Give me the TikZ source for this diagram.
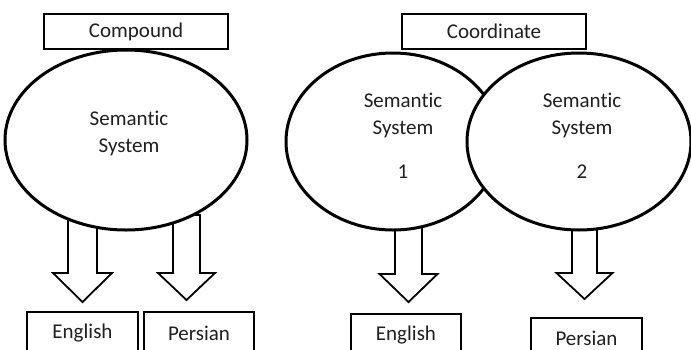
\documentclass[tikz,border=0pt]{standalone}
\usepackage{fontspec}
\setmainfont{Carlito}[Ligatures={NoCommon}]
\usetikzlibrary{shapes.geometric}
\definecolor{ink}{HTML}{202020}
\tikzset{
  lbl/.style={font=\fontsize{21}{27}\selectfont, text=ink, align=center, inner sep=0pt},
  titlebox/.style={draw=black, line width=1.3pt, fill=white},
  sembubble/.style={draw=black, line width=3pt, fill=white, ellipse, inner sep=0pt},
  blockarr/.style={draw=black, line width=1.8pt, fill=white, line join=miter},
}
% \barrow{cx}{top}{neck}{tip}{shaft half}{head half}
\newcommand{\barrow}[6]{%
  \draw[blockarr] (#1-#5,#2) -- (#1+#5,#2) -- (#1+#5,#3) -- (#1+#6,#3) -- (#1,#4)
     -- (#1-#6,#3) -- (#1-#5,#3) -- cycle;}
\begin{document}
\begin{tikzpicture}[x=1pt,y=-1pt]
\useasboundingbox (0,0) rectangle (691,349);
\clip (0,0) rectangle (691,349);
\fill[white] (0,0) rectangle (691,349);

% ---- Compound ----
\barrow{82.5}{215}{273}{302}{14.5}{29.5}
\barrow{186.5}{215}{273}{300}{13.5}{28.5}
\node[sembubble, minimum width=242pt, minimum height=180pt] (cE) at (126,140) {};
\node[titlebox, minimum width=184pt, minimum height=35pt] (cT) at (136,31.5) {};
\node[lbl] (cTt) at (136,31.5) {Compound};
\node[lbl] (cS) at (129,133.5) {Semantic\\System};
\node[titlebox, minimum width=111pt, minimum height=44pt] (cEn) at (82.5,334) {};
\node[lbl] (cEnt) at (82.5,333) {English};
\node[titlebox, minimum width=110pt, minimum height=44pt] (cPe) at (199,334) {};
\node[lbl] (cPet) at (199,333) {Persian};

% ---- Coordinate ----
\barrow{408.5}{215}{274}{302}{13.5}{29}
\barrow{584.5}{215}{273}{299}{12.5}{28}
\node[sembubble, minimum width=214pt, minimum height=177pt] (dE1) at (393,141.5) {};
\node[sembubble, minimum width=224pt, minimum height=177pt] (dE2) at (579,141.5) {};
\node[titlebox, minimum width=184pt, minimum height=35pt] (dT) at (494,31.5) {};
\node[lbl] (dTt) at (494,31.5) {Coordinate};
\node[lbl] (dS1) at (403,115.5) {Semantic\\System};
\node[lbl] (dN1) at (403,172) {1};
\node[lbl] (dS2) at (582,115.5) {Semantic\\System};
\node[lbl] (dN2) at (582,172) {2};
\node[titlebox, minimum width=110pt, minimum height=44pt] (dEn) at (406,336) {};
\node[lbl] (dEnt) at (406,335) {English};
\node[titlebox, minimum width=111pt, minimum height=44pt] (dPe) at (586.5,340) {};
\node[lbl] (dPet) at (586.5,338) {Persian};
\end{tikzpicture}
\end{document}
